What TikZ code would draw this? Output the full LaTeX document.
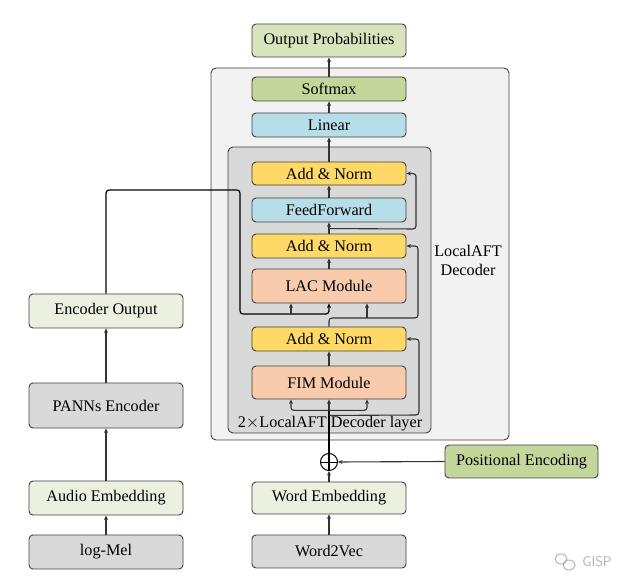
\documentclass[tikz,border=0pt]{standalone}
\usepackage{fontspec}
\setmainfont{Liberation Serif}
\usetikzlibrary{arrows.meta,calc}
\definecolor{couter}{HTML}{F2F2F2}
\definecolor{cinner}{HTML}{D9D9D9}
\definecolor{cyel}{HTML}{FFD966}
\definecolor{cblue}{HTML}{B7DEE8}
\definecolor{corange}{HTML}{F8CBAD}
\definecolor{csoft}{HTML}{C4D79B}
\definecolor{cprob}{HTML}{D7E4BD}
\definecolor{clgreen}{HTML}{EBF1DE}
\definecolor{cgray}{HTML}{D9D9D9}
\definecolor{cborder}{HTML}{404040}
\definecolor{cline}{HTML}{333333}
\definecolor{cwm}{HTML}{B0B0B0}
\begin{document}
\begin{tikzpicture}[x=1pt,y=-1pt,
  box/.style={draw=cborder, line width=0.9pt, rounded corners=4pt, minimum width=154pt, inner sep=0pt, font=\fontsize{16.2}{19}\selectfont},
  ln/.style={draw=cline, line width=1.1pt, rounded corners=3pt},
  arr/.style={ln, -{Stealth[length=4.5pt,width=4pt]}},
  thk/.style={draw=black, line width=1.9pt},
  lbl/.style={font=\fontsize{16.2}{19}\selectfont, inner sep=0pt, align=center}]
\useasboundingbox (0,0) rectangle (633,588);
% containers
\draw[fill=couter, draw=cborder, line width=0.9pt, rounded corners=5pt] (211,68) rectangle (509,440);
\draw[fill=cinner, draw=cborder, line width=0.9pt, rounded corners=5pt] (228,147) rectangle (431,433);
\node[lbl] (declbl) at (468,260) {LocalAFT\\Decoder};
\node[lbl] (layerlbl) at (330,424) {2$\times$LocalAFT Decoder layer};
% decoder column
\node[box, fill=cprob, minimum height=33pt] (out) at (329,40.5) {Output Probabilities};
\node[box, fill=csoft, minimum height=24pt] (soft) at (329,89) {Softmax};
\node[box, fill=cblue, minimum height=24pt] (lin) at (329,125) {Linear};
\node[box, fill=cyel, minimum height=23pt] (an3) at (329,173.5) {Add \& Norm};
\node[box, fill=cblue, minimum height=24pt] (ff) at (329,210) {FeedForward};
\node[box, fill=cyel, minimum height=24pt] (an2) at (329,246) {Add \& Norm};
\node[box, fill=corange, minimum height=34pt] (lac) at (329,286) {LAC Module};
\node[box, fill=cyel, minimum height=24pt] (an1) at (329,339) {Add \& Norm};
\node[box, fill=corange, minimum height=33pt] (fim) at (329,382.5) {FIM Module};
\node[box, fill=clgreen, minimum height=32pt] (wemb) at (329,498) {Word Embedding};
\node[box, fill=cgray, minimum height=33pt] (w2v) at (329,551.5) {Word2Vec};
\node[box, fill=csoft, minimum width=153pt, minimum height=33pt] (pe) at (521.5,461.5) {Positional Encoding};
% encoder column
\node[box, fill=clgreen, minimum height=34pt] (eo) at (106,311) {Encoder Output};
\node[box, fill=cgray, minimum height=45pt] (panns) at (106,405.5) {PANNs Encoder};
\node[box, fill=clgreen, minimum height=34pt] (aemb) at (106,498) {Audio Embedding};
\node[box, fill=cgray, minimum height=34pt] (logmel) at (106,552) {log-Mel};
% adder
\node[draw=black, line width=1pt, circle, minimum size=17pt, inner sep=0pt] (add) at (329,462) {};
\draw[draw=black, line width=0.8pt] (add.west) -- (add.east);
% encoder connectors
\draw[arr] (logmel.north) -- (aemb.south);
\draw[arr] (aemb.north) -- (panns.south);
\draw[arr] (panns.north) -- (eo.south);
\coordinate (ea) at (240,190);
\coordinate (eb) at (240,314);
\coordinate (lacL) at ($(lac.south)+(-38,0)$);
\coordinate (lacR) at ($(lac.south)+(38,0)$);
\draw[arr, draw=black, line width=1.2pt] (eo.north) |- (ea) -- (eb) -| (lac.south);
\draw[arr] ($(lacL)+(0,11)$) -- (lacL);
% word path
\draw[arr] (w2v.north) -- (wemb.south);
\draw[arr] (wemb.north) -- (add.south);
\draw[arr] (pe.west) -- (add.east);
\coordinate (fb) at ($(fim.south)+(0,11)$);
\coordinate (fimL) at ($(fim.south)+(-38,0)$);
\coordinate (fimR) at ($(fim.south)+(38,0)$);
\draw[thk] (add.south) -- (fb);
\draw[arr] (fb) -- (fim.south);
\draw[arr] (fb) -| (fimL);
\draw[arr] (fb) -| (fimR);
\coordinate (r1) at (419,415);
\draw[arr] ($(fim.south)+(0,16)$) -- (r1) |- (an1.east);
% layer internals
\draw[arr] (fim.north) -- (an1.south);
\coordinate (r2) at (418,318);
\draw[arr] (an1.north) |- (r2) |- (an2.east);
\draw[arr] ($(lacR)+(0,15)$) -- (lacR);
\draw[arr] (lac.north) -- (an2.south);
\coordinate (r3) at (416,229);
\draw[arr] (an2.north) -- (ff.south);
\draw[arr] ($(an2.north)+(0,-5)$) -- (r3) |- (an3.east);
\draw[arr] (ff.north) -- (an3.south);
\draw[arr] (an3.north) -- (lin.south);
\draw[arr] (lin.north) -- (soft.south);
\draw[arr] (soft.north) -- (out.south);
% watermark
\draw[cwm, line width=0.9pt] (561,559) circle[x radius=6pt, y radius=5pt];
\draw[cwm, line width=0.9pt] (569,565) circle[x radius=6pt, y radius=5pt];
\node[font=\sffamily\fontsize{14}{16}\selectfont, text=cwm, inner sep=0pt] (wm) at (597,562) {GISP};
\end{tikzpicture}
\end{document}
